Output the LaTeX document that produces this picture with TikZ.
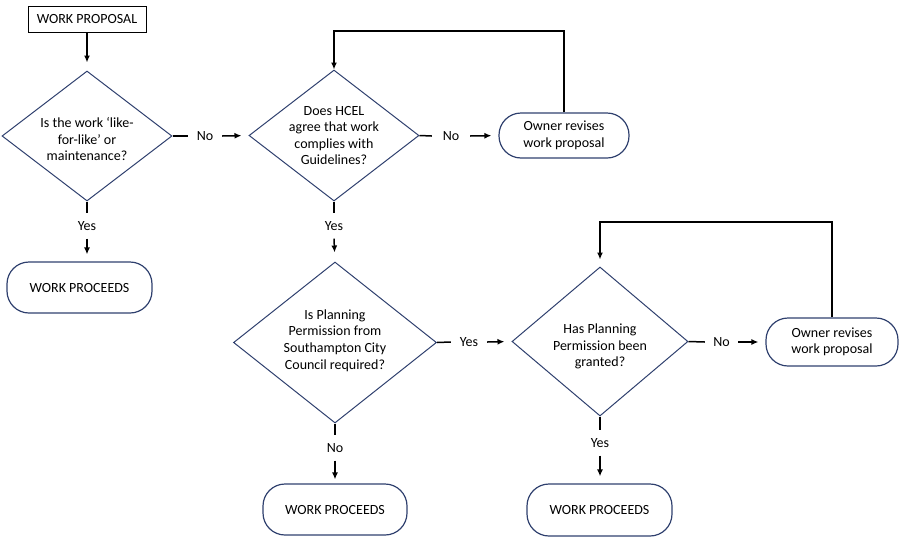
\documentclass[tikz,border=0pt]{standalone}
\usepackage{fontspec}
\setmainfont{Carlito}
\usetikzlibrary{shapes.geometric,arrows.meta}
\definecolor{navy}{RGB}{47,64,110}
\begin{document}
\begin{tikzpicture}[x=1pt,y=-1pt,
  font=\fontsize{14}{16.6}\selectfont,
  dec/.style={diamond, draw=navy, line width=1pt, inner sep=0pt},
  pill/.style={rectangle, rounded corners=22pt, draw=navy, line width=1.2pt, align=center, inner sep=0pt},
  lbl/.style={inner sep=0pt, minimum width=34pt, minimum height=25pt},
  conn/.style={line width=1.5pt},
  tip/.style={-{Latex[length=7pt,width=6pt]}},
  arr/.style={conn, tip, shorten >=7pt}]
\useasboundingbox (0,0) rectangle (904,544);

% boxes
\node[draw=black, line width=1pt, minimum width=118pt, minimum height=26pt, inner sep=0pt] (wp) at (87,19) {WORK PROPOSAL};
\node[pill, minimum width=145pt, minimum height=51pt] (wp1) at (79.5,287.5) {WORK PROCEEDS};
\node[pill, minimum width=144pt, minimum height=51pt] (wp2) at (335,509.5) {WORK PROCEEDS};
\node[pill, minimum width=145pt, minimum height=52pt] (wp3) at (599.5,510) {WORK PROCEEDS};
\node[pill, minimum width=130pt, minimum height=45pt] (or1) at (564,135.5) {Owner revises\\work proposal};
\node[pill, minimum width=132pt, minimum height=48pt] (or2) at (832,342) {Owner revises\\work proposal};

% decisions
\node[dec, minimum width=170pt, minimum height=130pt,
  label={[align=center, yshift=-3pt]center:{Is the work ‘like-\\for-like’ or\\maintenance?}}] (d1) at (87,136) {};
\node[dec, minimum width=170pt, minimum height=131pt,
  label={[align=center]center:{Does HCEL\\agree that work\\complies with\\Guidelines?}}] (d2) at (334,135.5) {};
\node[dec, minimum width=203pt, minimum height=161pt,
  label={[align=center, yshift=2pt]center:{Is Planning\\Permission from\\Southampton City\\Council required?}}] (d3) at (335,342.5) {};
\node[dec, minimum width=176pt, minimum height=149pt,
  label={[align=center, yshift=-5pt]center:{Has Planning\\Permission been\\granted?}}] (d4) at (600,341.5) {};

% edge labels
\node[lbl] (no1) at (205,136) {No};
\node[lbl] (yes1) at (87,226) {Yes};
\node[lbl, minimum width=38pt] (no2) at (451,136) {No};
\node[lbl] (yes2) at (334,226) {Yes};
\node[lbl, minimum width=36pt] (yes3) at (469,342) {Yes};
\node[lbl] (no3) at (335,448) {No};
\node[lbl, minimum width=33pt] (no4) at (721.5,342) {No};
\node[lbl] (yes4) at (600,443) {Yes};

% connectors
\draw[arr, shorten >=8pt] (wp.south) -- (d1.north);
\draw[conn] (d1.east) -- (no1.west);
\draw[arr] (no1.east) -- (d2.west);
\draw[conn] (d1.south) -- (yes1.north);
\draw[arr] (yes1.south) -- (yes1.south |- wp1.north);

\draw[conn] (d2.east) -- (no2.west);
\draw[arr] (no2.east) -- (or1.west);
\draw[conn] (d2.south) -- (yes2.north);
\draw[arr, shorten >=9pt] (yes2.south) -- (d3.north);
\coordinate (f1) at (334,31);
\draw[conn, tip] (or1.north) |- (f1) -- (d2.north);

\draw[conn] (d3.east) -- (yes3.west);
\draw[arr] (yes3.east) -- (d4.west);
\draw[conn] (d3.south) -- (no3.north);
\draw[arr, shorten >=4pt] (no3.south) -- (wp2.north);

\draw[conn] (d4.east) -- (no4.west);
\draw[arr] (no4.east) -- (or2.west);
\draw[conn] (d4.south) -- (yes4.north);
\draw[arr] (yes4.south) -- (yes4.south |- wp3.north);
\coordinate (f2) at (600,222);
\draw[arr] (or2.north) |- (f2) -- (d4.north);
\end{tikzpicture}
\end{document}
